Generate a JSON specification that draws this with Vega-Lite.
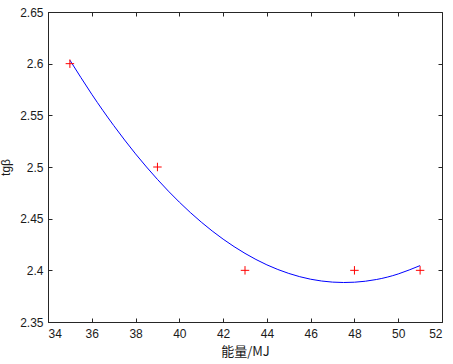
{
  "$schema": "https://vega.github.io/schema/vega-lite/v6.json",
  "width": 394,
  "height": 310,
  "autosize": "none",
  "padding": {"left": 48, "top": 12, "right": 11, "bottom": 42},
  "background": "white",
  "config": {
    "view": {"stroke": "#262626", "strokeWidth": 1},
    "axis": {
      "grid": false,
      "domainColor": "#262626",
      "tickColor": "#262626",
      "labelColor": "#1a1a1a",
      "titleColor": "#1a1a1a",
      "labelFont": "Liberation Sans",
      "titleFont": "Noto Sans CJK SC",
      "labelFontSize": 12,
      "titleFontSize": 13,
      "titleFontWeight": "normal",
      "tickSize": -4
    }
  },
  "datasets": {
    "pts": [
      {"x": 35, "y": 2.6},
      {"x": 39, "y": 2.5},
      {"x": 43, "y": 2.4},
      {"x": 48, "y": 2.4},
      {"x": 51, "y": 2.4}
    ],
    "fit": [
      {"x": 35, "y": 2.6034}, {"x": 36, "y": 2.5704}, {"x": 37, "y": 2.5402},
      {"x": 38, "y": 2.5127}, {"x": 39, "y": 2.4880}, {"x": 40, "y": 2.4660},
      {"x": 41, "y": 2.4467}, {"x": 42, "y": 2.4302}, {"x": 43, "y": 2.4164},
      {"x": 44, "y": 2.4053}, {"x": 45, "y": 2.3970}, {"x": 46, "y": 2.3914},
      {"x": 47, "y": 2.3886}, {"x": 48, "y": 2.3885}, {"x": 49, "y": 2.3911},
      {"x": 50, "y": 2.3965}, {"x": 51, "y": 2.4046}
    ]
  },
  "layer": [
    {
      "data": {"name": "fit"},
      "mark": {"type": "line", "color": "#0000ff", "strokeWidth": 1, "interpolate": "natural"},
      "encoding": {
        "x": {"field": "x", "type": "quantitative", "scale": {"domain": [34, 52], "nice": false, "zero": false},
              "axis": {"title": "能量/MJ", "values": [34,36,38,40,42,44,46,48,50,52], "format": "d", "labelPadding": 10, "titlePadding": 6}},
        "y": {"field": "y", "type": "quantitative", "scale": {"domain": [2.35, 2.65], "nice": false, "zero": false},
              "axis": {"title": "tgβ", "titleFont": "Liberation Sans", "titleFontSize": 12, "values": [2.35,2.4,2.45,2.5,2.55,2.6,2.65], "format": "~g", "labelPadding": 9, "titlePadding": 7}}
      }
    },
    {
      "data": {"name": "pts"},
      "mark": {"type": "point", "shape": "M-1,0L1,0M0,-1L0,1", "filled": false, "color": "#ff0000", "strokeWidth": 1, "size": 72, "opacity": 1},
      "encoding": {
        "x": {"field": "x", "type": "quantitative", "axis": {"orient": "top", "labels": false, "title": null, "domain": false, "values": [34,36,38,40,42,44,46,48,50,52]}},
        "y": {"field": "y", "type": "quantitative", "axis": {"orient": "right", "labels": false, "title": null, "domain": false, "values": [2.35,2.4,2.45,2.5,2.55,2.6,2.65]}}
      }
    }
  ],
  "resolve": {"axis": {"x": "independent", "y": "independent"}}
}
